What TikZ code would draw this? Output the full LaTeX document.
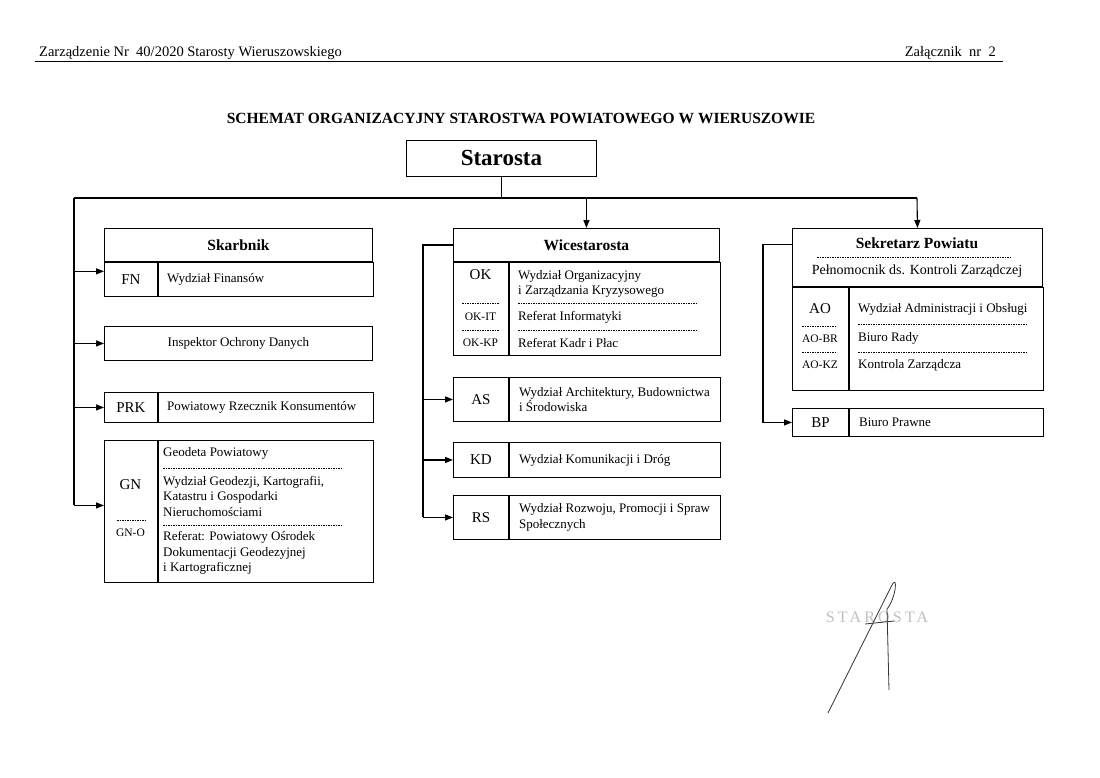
\documentclass[tikz,border=0pt]{standalone}
\usepackage{fontspec}
\setmainfont{Liberation Serif}
\usetikzlibrary{arrows.meta, positioning}

\begin{document}
\begin{tikzpicture}[x=1pt, y=-1pt,
    cell/.style={rectangle, draw=black, line width=0.9pt, fill=white, inner sep=0pt, anchor=north west},
    head/.style={font=\fontsize{15.5}{17}\selectfont\bfseries, inner sep=0pt},
    code/.style={font=\fontsize{15}{16}\selectfont, inner sep=0pt},
    subcode/.style={font=\fontsize{11.5}{12}\selectfont, inner sep=0pt},
    txt/.style={font=\fontsize{13}{15.5}\selectfont, align=left, anchor=west, inner sep=0pt},
    dashsep/.style={draw=black, line width=0.6pt, dash pattern=on 1.6pt off 0.9pt},
    link/.style={draw=black, line width=1.1pt},
    line/.style={link, -{Triangle[length=8pt, width=6pt]}},
    sig/.style={draw=black!80, line width=0.8pt}
]
    \useasboundingbox (0,0) rectangle (1100,777);

    % Page header
    \node[anchor=base west, inner sep=0pt, font=\fontsize{14.5}{15}\selectfont] (zarz) at (39,56) {Zarządzenie Nr\ \ 40/2020 Starosty Wieruszowskiego};
    \node[anchor=base east, inner sep=0pt, font=\fontsize{14.5}{15}\selectfont] (zal) at (996,56) {Załącznik\ \ nr\ \ 2};
    \draw[line width=0.9pt] (35,61) -- (1003,61);

    \node[head] (title) at (521,118) {SCHEMAT ORGANIZACYJNY STAROSTWA POWIATOWEGO W WIERUSZOWIE};

    % Starosta and the bus
    \node[cell, minimum width=190pt, minimum height=36pt, font=\fontsize{23}{24}\selectfont\bfseries] (STA) at (406,140) {Starosta};
    \coordinate (busL) at (74,198);
    \coordinate (busR) at (917,198);

    % Left column: Skarbnik and others
    \node[cell, head, minimum width=268pt, minimum height=33pt] (SKA) at (104,228) {Skarbnik};
    \node[cell, code, minimum width=53pt, minimum height=34pt, below=0pt of SKA.south west, anchor=north west] (FN) {FN};
    \node[cell, minimum width=215pt, minimum height=34pt, right=0pt of FN.north east, anchor=north west] (FNt) {};
    \node[txt] (FNx) at ([xshift=9pt]FNt.west) {Wydział Finansów};

    \node[cell, font=\fontsize{13}{14}\selectfont, minimum width=268pt, minimum height=34pt] (IOD) at (104,326) {Inspektor Ochrony Danych};

    \node[cell, code, minimum width=53pt, minimum height=30pt] (PRK) at (104,392) {PRK};
    \node[cell, minimum width=215pt, minimum height=30pt, right=0pt of PRK.north east, anchor=north west] (PRKt) {};
    \node[txt] (PRKx) at ([xshift=9pt]PRKt.west) {Powiatowy Rzecznik Konsumentów};

    \node[cell, minimum width=53pt, minimum height=142pt] (GN) at (104,440) {};
    \node[cell, minimum width=215pt, minimum height=142pt, right=0pt of GN.north east, anchor=north west] (GNt) {};
    \node[code] (GNc) at (130.5,485) {GN};
    \draw[dashsep] (117,520) -- (145,520);
    \node[subcode] (GNO) at (130.5,533) {GN-O};
    \node[txt] (GN1) at (163,453) {Geodeta Powiatowy};
    \draw[dashsep] (163,468) -- (343,468);
    \node[txt] (GN2) at (163,496) {Wydział Geodezji, Kartografii,\\Katastru i Gospodarki\\Nieruchomościami};
    \draw[dashsep] (163,525) -- (343,525);
    \node[txt] (GN3) at (163,553) {Referat: Powiatowy Ośrodek\\Dokumentacji Geodezyjnej\\i Kartograficznej};

    % Middle column: Wicestarosta
    \node[cell, head, minimum width=266pt, minimum height=33pt] (WIC) at (453,228) {Wicestarosta};
    \node[cell, minimum width=55pt, minimum height=93pt, below=0pt of WIC.south west, anchor=north west] (OK) {};
    \node[cell, minimum width=211pt, minimum height=93pt, right=0pt of OK.north east, anchor=north west] (OKt) {};
    \node[code] (OKc) at (480.5,275) {OK};
    \draw[dashsep] (462,303) -- (499,303);
    \node[subcode] (OKIT) at (480.5,317) {OK-IT};
    \draw[dashsep] (462,330) -- (499,330);
    \node[subcode] (OKKP) at (480.5,343) {OK-KP};
    \node[txt] (OK1) at (518,284) {Wydział Organizacyjny\\i Zarządzania Kryzysowego};
    \draw[dashsep] (518,303) -- (698,303);
    \node[txt] (OK2) at (518,317) {Referat Informatyki};
    \draw[dashsep] (518,330) -- (698,330);
    \node[txt] (OK3) at (518,343) {Referat Kadr i Płac};

    \node[cell, code, minimum width=55pt, minimum height=44pt] (AS) at (453,377) {AS};
    \node[cell, minimum width=211pt, minimum height=44pt, right=0pt of AS.north east, anchor=north west] (ASt) {};
    \node[txt] (ASx) at ([xshift=10pt]ASt.west) {Wydział Architektury, Budownictwa\\i Środowiska};

    \node[cell, code, minimum width=55pt, minimum height=35pt] (KD) at (453,442) {KD};
    \node[cell, minimum width=211pt, minimum height=35pt, right=0pt of KD.north east, anchor=north west] (KDt) {};
    \node[txt] (KDx) at ([xshift=10pt]KDt.west) {Wydział Komunikacji i Dróg};

    \node[cell, code, minimum width=55pt, minimum height=44pt] (RS) at (453,495) {RS};
    \node[cell, minimum width=211pt, minimum height=44pt, right=0pt of RS.north east, anchor=north west] (RSt) {};
    \node[txt] (RSx) at ([xshift=10pt]RSt.west) {Wydział Rozwoju, Promocji i Spraw\\Społecznych};

    % Right column: Sekretarz Powiatu
    \node[cell, minimum width=250pt, minimum height=58pt] (SEK) at (792,228) {};
    \node[head] (SEKh) at (917,243) {Sekretarz Powiatu};
    \draw[dashsep] (817,257) -- (1010,257);
    \node[font=\fontsize{14}{15}\selectfont, inner sep=0pt] (PEL) at (917,271) {Pełnomocnik ds. Kontroli Zarządczej};
    \node[cell, minimum width=56pt, minimum height=103pt, below=0pt of SEK.south west, anchor=north west] (AO) {};
    \node[cell, minimum width=194pt, minimum height=103pt, right=0pt of AO.north east, anchor=north west] (AOt) {};
    \node[code] (AOc) at (820,309) {AO};
    \draw[dashsep] (802,326) -- (837,326);
    \node[subcode] (AOBR) at (820,339) {AO-BR};
    \draw[dashsep] (802,352) -- (837,352);
    \node[subcode] (AOKZ) at (820,365) {AO-KZ};
    \node[txt] (AO1) at (858,309) {Wydział Administracji i Obsługi};
    \draw[dashsep] (858,324) -- (1027,324);
    \node[txt] (AO2) at (858,338) {Biuro Rady};
    \draw[dashsep] (858,352) -- (1027,352);
    \node[txt] (AO3) at (858,365) {Kontrola Zarządcza};

    \node[cell, code, minimum width=56pt, minimum height=28pt] (BP) at (792,408) {BP};
    \node[cell, minimum width=194pt, minimum height=28pt, right=0pt of BP.north east, anchor=north west] (BPt) {};
    \node[txt] (BPx) at ([xshift=10pt]BPt.west) {Biuro Prawne};

    % Connectors
    \coordinate (aFN) at ([yshift=8pt]FN.west);
    \coordinate (aGN) at ([yshift=6pt]GN.west);
    \coordinate (midL) at (423,0);
    \coordinate (rightL) at (763,0);
    \coordinate (aSEK) at ([yshift=13pt]SEK.west);

    \draw[link] (STA.south) -- (STA.south |- busL);
    \draw[link] (busL) -- (busR);
    \draw[line] (WIC.north |- busL) -- (WIC.north);
    \draw[line] (busR) -- (SEK.north);

    \draw[link] (busL) -- (aGN -| busL);
    \draw[line] (aFN -| busL) -- (aFN);
    \draw[line] (IOD.west -| busL) -- (IOD.west);
    \draw[line] (PRK.west -| busL) -- (PRK.west);
    \draw[line] (aGN -| busL) -- (aGN);

    \draw[link] (WIC.west) -| (midL |- RS.west);
    \draw[line] (midL |- AS.west) -- (AS.west);
    \draw[line] (midL |- KD.west) -- (KD.west);
    \draw[line] (midL |- RS.west) -- (RS.west);

    \draw[line] (aSEK) -| (rightL |- BP.west) -- (BP.west);

    % Stamp and signature
    \node[text=black!25, inner sep=0pt, font=\fontsize{16}{16}\selectfont\addfontfeatures{LetterSpace=20}] (stamp) at (877,617) {STAROSTA};
    \draw[sig] (828,713) -- (892,585) .. controls (898,574) and (896,598) .. (887,609) -- (889,690);
    \draw[sig] (865,624) -- (894,621);
\end{tikzpicture}
\end{document}
